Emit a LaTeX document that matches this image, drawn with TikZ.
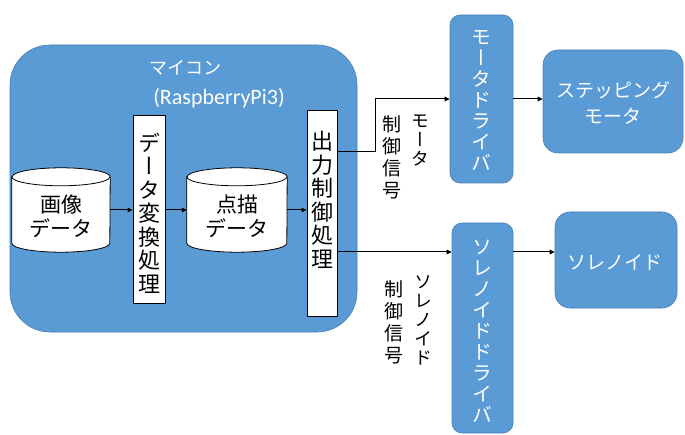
\documentclass[tikz,border=0pt]{standalone}
\usepackage{fontspec}
\setmainfont{Noto Sans CJK JP}
\newfontfamily\jp{Noto Sans CJK JP}
\newfontfamily\jpv[RawFeature=+vert]{Noto Sans CJK JP}
\newfontfamily\lat{Carlito}
\usetikzlibrary{arrows.meta}
\definecolor{blu}{HTML}{5B9BD5}
\definecolor{bord}{HTML}{4A7FB5}
\newcommand\cylshape[1]{%
  \draw[black, line width=0.8pt, fill=white]
    ([yshift=-9pt]#1.north west) -- ([yshift=9pt]#1.south west)
    arc[start angle=180, end angle=360, x radius=0.5*\cylw, y radius=9pt]
    -- ([yshift=-9pt]#1.north east)
    arc[start angle=0, end angle=180, x radius=0.5*\cylw, y radius=9pt] -- cycle;
  \draw[black, line width=0.8pt] ([yshift=-9pt]#1.north west)
    arc[start angle=180, end angle=360, x radius=0.5*\cylw, y radius=9pt];}
\begin{document}
\begin{tikzpicture}[x=1pt,y=1pt,
  bluebox/.style={draw=bord, fill=blu, rounded corners=10pt, text=white, inner sep=0pt, line width=0.6pt},
  whitebox/.style={draw=black, fill=white, inner sep=0pt, line width=0.8pt},
  cylnode/.style={inner sep=0pt, minimum height=84pt},
  conn/.style={draw=black, line width=1pt, -{Triangle[length=5pt,width=4.5pt]}},
  vtxt/.style={align=center, inner sep=0pt, font=\jpv\fontsize{20}{21}\selectfont},
  vtxtbig/.style={align=center, inner sep=0pt, font=\jpv\fontsize{22}{23.5}\selectfont},
  htxt/.style={align=center, inner sep=0pt, font=\jp\fontsize{19}{26}\selectfont},
]
\useasboundingbox (0,0) rectangle (685,434);

% microcomputer
\node[bluebox, rounded corners=40pt, minimum width=347pt, minimum height=287pt] (mc) at (183.5,245.5) {};
\node[text=white, inner sep=0pt, font=\jp\fontsize{18}{18}\selectfont] (mctitle) at (185,366) {マイコン};
\node[text=white, inner sep=0pt, font=\lat\fontsize{22}{22}\selectfont] (mcsub) at (219,336) {(RaspberryPi3)};

% cylinders
\def\cylw{98pt}
\node[cylnode, minimum width=98pt] (img) at (61,224) {};
\cylshape{img}
\node[htxt, font=\jp\fontsize{21}{24}\selectfont] (imgt) at ([yshift=-6pt]img.center) {画像\\データ};
\def\cylw{100pt}
\node[cylnode, minimum width=100pt] (dots) at (237,224) {};
\cylshape{dots}
\node[htxt, font=\jp\fontsize{21}{24}\selectfont] (dotst) at ([yshift=-6pt]dots.center) {点描\\データ};

% white process boxes
\node[whitebox, minimum width=32pt, minimum height=188pt] (conv) at (149,225) {};
\node[vtxtbig] (convt) at (149,221) {デ\\ー\\タ\\変\\換\\処\\理};
\node[whitebox, minimum width=30pt, minimum height=206pt] (out) at (322,221) {};
\node[vtxtbig] (outt) at (322,234) {出\\力\\制\\御\\処\\理};

% drivers and actuators
\node[bluebox, minimum width=63pt, minimum height=168pt] (mdrv) at (481.5,335) {};
\node[vtxt, text=white] (mdrvt) at (481.5,333) {モ\\ー\\タ\\ド\\ラ\\イ\\バ};
\node[bluebox, rounded corners=15pt, minimum width=140pt, minimum height=103pt] (step) at (613,332.5) {};
\node[htxt, text=white] (stept) at (613,331) {ステッピング\\モータ};
\node[bluebox, minimum width=61pt, minimum height=210pt] (sdrv) at (482.5,106) {};
\node[vtxt, text=white] (sdrvt) at (482.5,103) {ソ\\レ\\ノ\\イ\\ド\\ド\\ラ\\イ\\バ};
\node[bluebox, rounded corners=15pt, minimum width=122pt, minimum height=96pt] (sol) at (616,174) {};
\node[htxt, text=white] (solt) at (615,172) {ソレノイド};

% connectors
\draw[conn] (img.east) -- (img.east -| conv.west);
\draw[conn] (conv.east |- dots.west) -- (dots.west);
\draw[conn] (dots.east) -- (dots.east -| out.west);
\coordinate (o1) at ([yshift=61pt]out.east);
\coordinate (o2) at ([yshift=-39pt]out.east);
\draw[conn] (o1) -| ([xshift=-74pt]mdrv.west) -- (mdrv.west);
\draw[conn] (o2) -- (o2 -| sdrv.west);
\draw[conn] (mdrv.east) -- (mdrv.east -| step.west);
\draw[conn] (sdrv.east |- o2) -- (sol.west |- o2);

% signal labels
\node[vtxt, anchor=north, font=\jpv\fontsize{18}{19}\selectfont] (mlab1) at (420,319) {モ\\ー\\タ};
\node[vtxt, anchor=north, font=\jpv\fontsize{19}{22}\selectfont] (mlab2) at (392,319) {制\\御\\信\\号};
\node[vtxt, anchor=north, font=\jpv\fontsize{18}{19}\selectfont] (slab1) at (423,159) {ソ\\レ\\ノ\\イ\\ド};
\node[vtxt, anchor=north, font=\jpv\fontsize{19}{22}\selectfont] (slab2) at (394,154) {制\\御\\信\\号};
\end{tikzpicture}
\end{document}
